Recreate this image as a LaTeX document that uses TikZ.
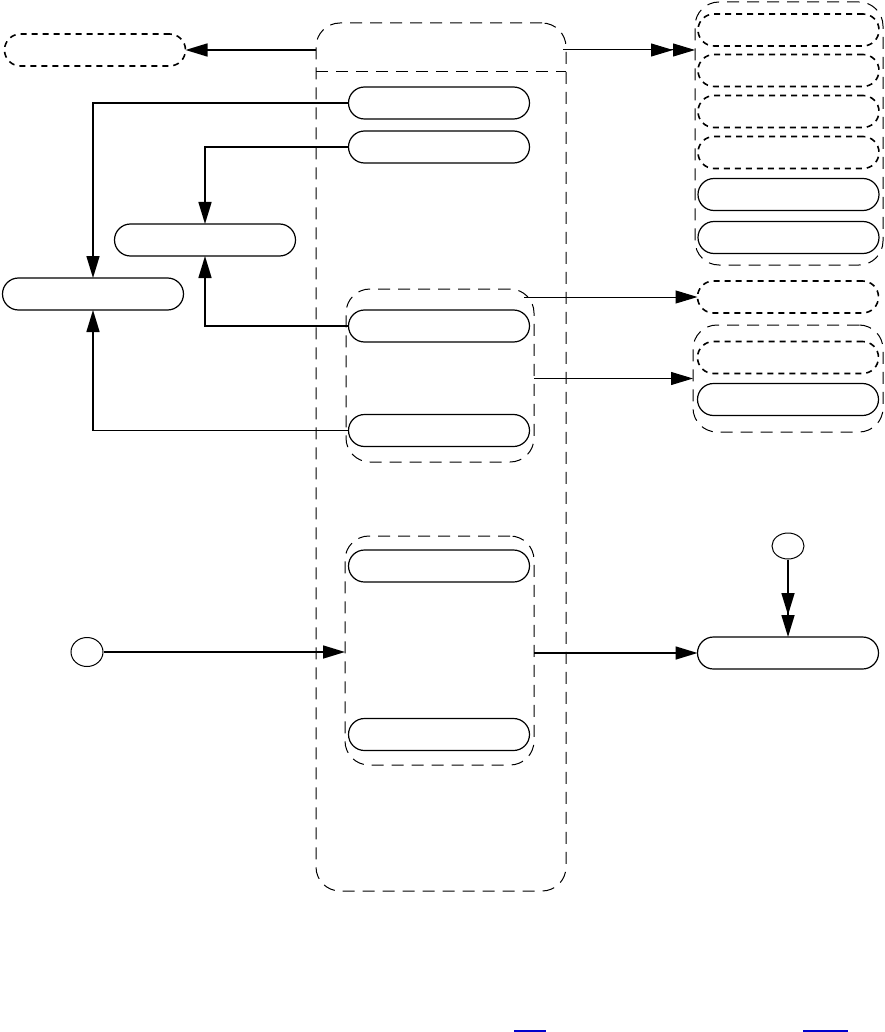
\documentclass[tikz,border=0pt]{standalone}
\usetikzlibrary{arrows.meta,positioning,shapes.geometric}

\begin{document}
\begin{tikzpicture}[
  x=0.5pt,
  y=-0.5pt,
  state/.style={
    draw=black,
    rounded corners=8pt,
    minimum width=90.5pt,
    minimum height=16pt,
    inner sep=0pt,
    outer sep=0pt,
    line width=0.6pt
  },
  ghost/.style={state, dash pattern=on 3pt off 2.5pt, line width=0.8pt},
  region/.style={draw=black, dash pattern=on 6pt off 4pt, rounded corners=12pt,
    inner sep=0pt, outer sep=0pt, line width=0.5pt},
  pseudo/.style={ellipse, draw=black, inner sep=0pt, line width=0.5pt},
  trans/.style={->, line width=0.8pt},
  thintrans/.style={->, line width=0.5pt},
  deep/.style={-{Triangle[length=11pt,width=6.5pt]Triangle[length=11pt,width=6.5pt]}},
  link/.style={draw=blue!80!black, line width=0.8pt},
  >={Triangle[length=11pt,width=6.5pt]}
]
\useasboundingbox (0,0) rectangle (884,1032);

% composite states
\node[region, minimum width=125pt, minimum height=434pt] (main) at (441,457) {};
\draw[region, rounded corners=0pt] ([yshift=-24.5pt]main.north west) -- ([yshift=-24.5pt]main.north east);
\node[region, minimum width=94pt, minimum height=86.5pt] (regA) at (440,375.5) {};
\node[region, minimum width=94.5pt, minimum height=114.5pt] (regB) at (439.5,650.5) {};
\node[region, minimum width=94pt, minimum height=131.5pt] (grpA) at (789,133.5) {};
\node[region, minimum width=95pt, minimum height=53.5pt] (grpB) at (788,378.5) {};

% left side
\node[ghost] (ext)  at (95,50)   {};
\node[state] (mid)  at (205,240) {};
\node[state] (left) at (93,294)  {};

% inner states
\node[state] (s1) at (439,103)   {};
\node[state] (s2) at (439,147)   {};
\node[state] (s3) at (439,326)   {};
\node[state] (s4) at (439,430.5) {};
\node[state] (s5) at (439,566)   {};
\node[state] (s6) at (439,734.5) {};

% right side
\node[ghost] (r1) at (788.5,30)    {};
\node[ghost] (r2) at (788.5,70.5)  {};
\node[ghost] (r3) at (788.5,111.5) {};
\node[ghost] (r4) at (788.5,152.5) {};
\node[state] (r5) at (788.5,194.5) {};
\node[state] (r6) at (788.5,237.5) {};
\node[ghost] (r7) at (788,297)     {};
\node[ghost] (r8) at (788,357.5)   {};
\node[state] (r9) at (788,399.5)   {};
\node[state] (r10) at (788,653)    {};

\node[pseudo, minimum width=16pt, minimum height=14.5pt] (init1) at (87,652) {};
\node[pseudo, minimum width=16pt, minimum height=13pt] (init2) at (788,546) {};

% transitions
\draw[trans] (main.west |- ext) -- (ext);
\draw[thintrans, deep] ([xshift=-1.5pt]main.east |- ext) -- (grpA.west |- ext);
\draw[trans] (s1.west) -| (left.north);
\draw[trans] (s2.west) -| (mid.north);
\draw[trans] (s3.west) -| (mid.south);
\draw[trans] (s4.west) -| (left.south);
\draw[thintrans] ([xshift=-5pt]regA.east |- r7) -- (r7);
\draw[thintrans] (regA.east |- grpB) -- (grpB.west);
\draw[trans] (init1) -- (init1 -| regB.west);
\draw[trans] (regB.east |- r10) -- (r10);
\draw[trans, deep] (init2) -- (r10);

\draw[link] (514,1031) -- (546,1031);
\draw[link] (803,1031) -- (848,1031);
\end{tikzpicture}
\end{document}
